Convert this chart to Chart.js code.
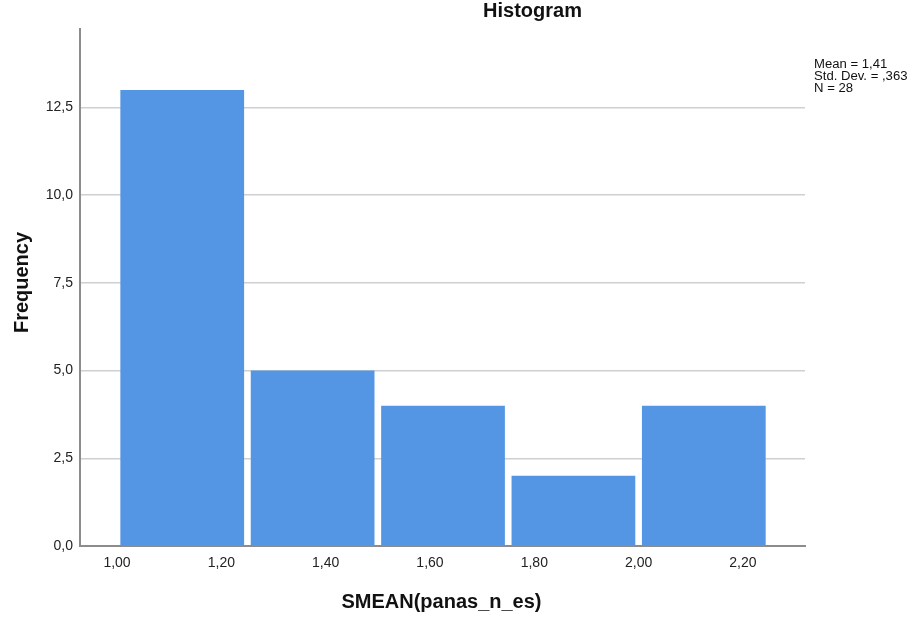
<!DOCTYPE html>
<html>
<head>
<meta charset="utf-8">
<title>Histogram</title>
<script src="https://cdn.jsdelivr.net/npm/chart.js@4.4.1/dist/chart.umd.min.js"></script>
<style>
  html, body { margin: 0; padding: 0; background: #ffffff; }
  #wrap { width: 915px; height: 619px; position: relative; }
  canvas { display: block; }
</style>
</head>
<body>
<div id="wrap"><canvas id="hist" width="915" height="619"></canvas></div>
<script>
// Histogram bins (lower edges) and counts
const binStarts = [1.00, 1.25, 1.50, 1.75, 2.00];
const binWidth = 0.25;
const frequencies = [13, 5, 4, 2, 4];

// Axis tick values
const xTickValues = [1.00, 1.20, 1.40, 1.60, 1.80, 2.00, 2.20];
const xTickStep = 0.2;
const yTickValues = [0, 2.5, 5.0, 7.5, 10.0, 12.5];

// Summary statistics shown beside the plot
const statLines = ['Mean = 1,41', 'Std. Dev. = ,363', 'N = 28'];

const FONT = "'Liberation Sans', Arial, Helvetica, sans-serif";
const BAR_COLOR = '#5596e4';

const points = binStarts.map((s, i) => ({ x: s + binWidth / 2, y: frequencies[i] }));

const commaNum = (v, d) => v.toFixed(d).replace('.', ',');

// Titles and the statistics box
const textPlugin = {
  id: 'histTexts',
  afterDraw(chart) {
    const ctx = chart.ctx;
    ctx.save();
    ctx.fillStyle = '#111111';
    ctx.textBaseline = 'alphabetic';

    ctx.font = 'bold 20px ' + FONT;
    ctx.textAlign = 'center';
    ctx.fillText('Histogram', 532.5, 17);

    ctx.fillText('SMEAN(panas_n_es)', 441.5, 608);

    ctx.save();
    ctx.translate(28, 282.5);
    ctx.rotate(-Math.PI / 2);
    ctx.textAlign = 'center';
    ctx.fillText('Frequency', 0, 0);
    ctx.restore();

    ctx.font = '12.5px ' + FONT;
    ctx.textAlign = 'left';
    const baselines = [67.5, 79.5, 91.5];
    statLines.forEach((t, i) => {
      ctx.save();
      ctx.translate(814, baselines[i]);
      ctx.scale(1.05, 1);
      ctx.fillText(t, 0, 0);
      ctx.restore();
    });
    ctx.restore();
  }
};

new Chart(document.getElementById('hist'), {
  type: 'bar',
  data: {
    datasets: [{
      data: points,
      backgroundColor: BAR_COLOR,
      borderWidth: 0,
      // bar slot follows the tick spacing, so widen it to the bin width
      categoryPercentage: binWidth / xTickStep,
      barPercentage: 0.949
    }]
  },
  options: {
    responsive: false,
    devicePixelRatio: 1,
    animation: false,
    layout: { padding: { top: 28.5, right: 110, left: 0, bottom: 0 } },
    plugins: {
      legend: { display: false },
      tooltip: { enabled: false },
      title: { display: false }
    },
    scales: {
      x: {
        type: 'linear',
        min: 0.929,
        max: 2.319,
        offset: false,
        grid: { display: false, drawTicks: false },
        border: { display: true, color: '#8c8c8c', width: 2 },
        ticks: {
          font: { family: FONT, size: 14 },
          color: '#222222',
          padding: 9,
          maxRotation: 0,
          autoSkip: false,
          callback: (v) => commaNum(v, 2)
        },
        afterBuildTicks: (scale) => { scale.ticks = xTickValues.map(v => ({ value: v })); },
        afterFit: (scale) => { scale.height = 73; }
      },
      y: {
        type: 'linear',
        min: 0,
        max: 14.75,
        grid: { display: true, color: '#d0d0d0', lineWidth: 1.5, drawTicks: false },
        border: { display: true, color: '#8c8c8c', width: 2 },
        ticks: {
          font: { family: FONT, size: 14 },
          color: '#222222',
          padding: 7,
          autoSkip: false,
          callback: (v) => commaNum(v, 1)
        },
        afterBuildTicks: (scale) => { scale.ticks = yTickValues.map(v => ({ value: v })); },
        afterFit: (scale) => { scale.width = 80; }
      }
    }
  },
  plugins: [textPlugin]
});
</script>
</body>
</html>
